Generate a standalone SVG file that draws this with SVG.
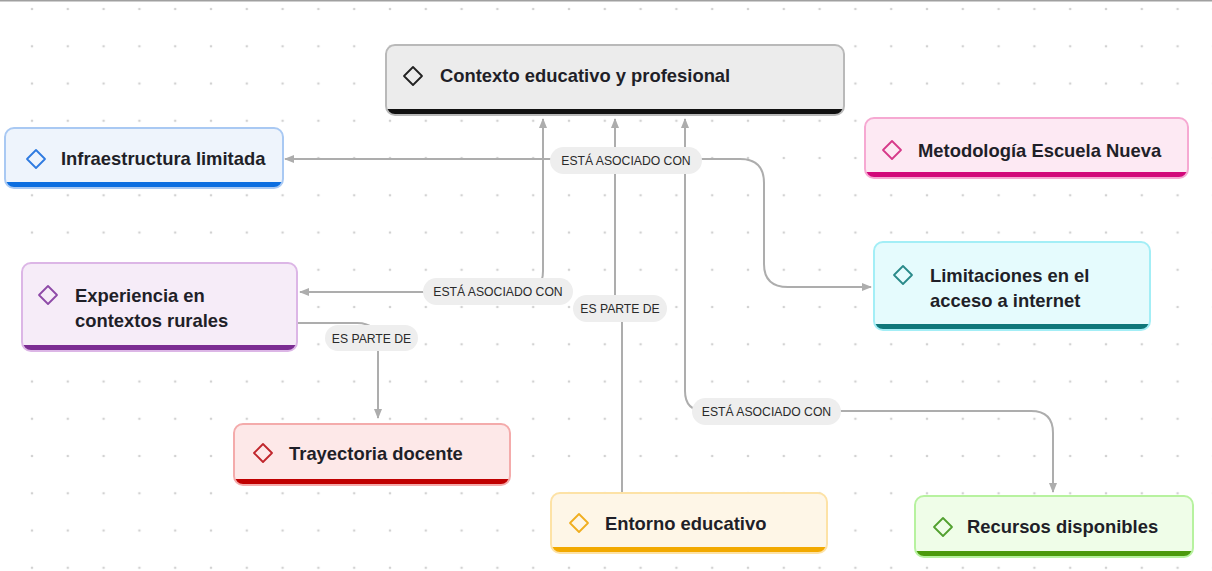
<svg xmlns="http://www.w3.org/2000/svg" width="1212" height="571" viewBox="0 0 1212 571">
<style>
.t{font-family:"Liberation Sans",Arial,sans-serif;font-weight:bold;font-size:18.4px;fill:#1f1f28}
.lt{font-family:"Liberation Sans",Arial,sans-serif;font-size:12.2px;fill:#2a2a2a;text-anchor:middle}
.lb{fill:#eeeeee}
.c{fill:none;stroke:#adadad;stroke-width:2}
.dm{fill:none;stroke-width:1.8;stroke-linejoin:round}
.bd{fill:none;stroke-width:2}
</style>
<defs>
<pattern id="dots" x="14.1" y="-9.6" width="35.8" height="37.25" patternUnits="userSpaceOnUse">
<circle cx="17.9" cy="18.6" r="1.3" fill="#d2d2d2"/>
</pattern>
<marker id="ah" viewBox="0 0 10 10" refX="9" refY="5" markerWidth="10" markerHeight="10" markerUnits="userSpaceOnUse" orient="auto-start-reverse">
<path d="M0,1 L10,5 L0,9 z" fill="#adadad"/>
</marker>
</defs>
<rect width="1212" height="571" fill="#ffffff"/>
<rect width="1212" height="571" fill="url(#dots)"/>
<rect x="0" y="0" width="1212" height="1.5" fill="#a0a0a0"/>

<g id="connectors">
<path class="c" d="M 285 159 H 740 Q 764 159 764 183 V 264 Q 764 287 788 287 H 871" marker-start="url(#ah)" marker-end="url(#ah)"/>
<path class="c" d="M 300 292 H 522 Q 543 292 543 271 V 119" marker-start="url(#ah)" marker-end="url(#ah)"/>
<path class="c" d="M 622 492 V 318 L 615 300 V 119" marker-end="url(#ah)"/>
<path class="c" d="M 685 119 V 391 Q 685 411 705 411 H 1031 Q 1053 411 1053 433 V 492" marker-start="url(#ah)" marker-end="url(#ah)"/>
<path class="c" d="M 298 323 H 357 Q 378 323 378 344 V 418" marker-end="url(#ah)"/>
<g id="lbl1"><rect class="lb" x="550" y="147" width="152" height="27" rx="13.5"/><text class="lt" x="626" y="165">ESTÁ ASOCIADO CON</text></g>
<g id="lbl2"><rect class="lb" x="423" y="278" width="150" height="27" rx="13.5"/><text class="lt" x="498" y="296">ESTÁ ASOCIADO CON</text></g>
<g id="lbl3"><rect class="lb" x="692" y="398" width="149" height="27" rx="13.5"/><text class="lt" x="766.5" y="416">ESTÁ ASOCIADO CON</text></g>
<g id="lbl4"><rect class="lb" x="573" y="295" width="94" height="27" rx="13.5"/><text class="lt" x="620" y="313">ES PARTE DE</text></g>
<g id="lbl5"><rect class="lb" x="325" y="325" width="93" height="26" rx="13"/><text class="lt" x="371.5" y="342.5">ES PARTE DE</text></g>
</g>

<g id="n-contexto">
<rect x="386" y="45" width="458" height="70" rx="9" fill="#111111"/>
<path d="M386 109 V54 Q386 45 395 45 H835 Q844 45 844 54 V109 Z" fill="#ececec"/>
<rect class="bd" x="386" y="45" width="458" height="70" rx="9" stroke="#b9b9b9"/>
<path class="dm" d="M413 67 L422 76 L413 85 L404 76 Z" stroke="#222"/>
<text class="t" x="440" y="82">Contexto educativo y profesional</text>
</g>

<g id="n-infra">
<rect x="5" y="128" width="278" height="60" rx="9" fill="#0c6ee0"/>
<path d="M5 182 V137 Q5 128 14 128 H274 Q283 128 283 137 V182 Z" fill="#eef4fc"/>
<rect class="bd" x="5" y="128" width="278" height="60" rx="9" stroke="#a9c9f3"/>
<path class="dm" d="M36 150 L45 159 L36 168 L27 159 Z" stroke="#2f7be0"/>
<text class="t" x="61" y="165">Infraestructura limitada</text>
</g>

<g id="n-metodologia">
<rect x="865" y="118" width="323" height="60" rx="9" fill="#d2097a"/>
<path d="M865 172 V127 Q865 118 874 118 H1179 Q1188 118 1188 127 V172 Z" fill="#fde9f3"/>
<rect class="bd" x="865" y="118" width="323" height="60" rx="9" stroke="#f6a9d2"/>
<path class="dm" d="M892 141 L901 150 L892 159 L883 150 Z" stroke="#d63a8a"/>
<text class="t" x="918" y="157">Metodología Escuela Nueva</text>
</g>

<g id="n-experiencia">
<rect x="22" y="263" width="275" height="88" rx="9" fill="#7c2d93"/>
<path d="M22 345 V272 Q22 263 31 263 H288 Q297 263 297 272 V345 Z" fill="#f6ecf8"/>
<rect class="bd" x="22" y="263" width="275" height="88" rx="9" stroke="#dcb6e6"/>
<path class="dm" d="M48 286 L57 295 L48 304 L39 295 Z" stroke="#8e4aa8"/>
<text class="t" x="75" y="302">Experiencia en</text>
<text class="t" x="75" y="327">contextos rurales</text>
</g>

<g id="n-limitaciones">
<rect x="874" y="242" width="276" height="88" rx="9" fill="#10777a"/>
<path d="M874 324 V251 Q874 242 883 242 H1141 Q1150 242 1150 251 V324 Z" fill="#e5fbfd"/>
<rect class="bd" x="874" y="242" width="276" height="88" rx="9" stroke="#a3eef6"/>
<path class="dm" d="M903 266 L912 275 L903 284 L894 275 Z" stroke="#2a8a8a"/>
<text class="t" x="930" y="282">Limitaciones en el</text>
<text class="t" x="930" y="307">acceso a internet</text>
</g>

<g id="n-trayectoria">
<rect x="234" y="424" width="276" height="61" rx="9" fill="#c00000"/>
<path d="M234 479 V433 Q234 424 243 424 H501 Q510 424 510 433 V479 Z" fill="#fde8e8"/>
<rect class="bd" x="234" y="424" width="276" height="61" rx="9" stroke="#f4abab"/>
<path class="dm" d="M263 444 L272 453 L263 462 L254 453 Z" stroke="#c0262c"/>
<text class="t" x="289" y="460">Trayectoria docente</text>
</g>

<g id="n-entorno">
<rect x="551" y="493" width="276" height="60" rx="9" fill="#f2a900"/>
<path d="M551 547 V502 Q551 493 560 493 H818 Q827 493 827 502 V547 Z" fill="#fef6e7"/>
<rect class="bd" x="551" y="493" width="276" height="60" rx="9" stroke="#fde2a6"/>
<path class="dm" d="M579 514 L588 523 L579 532 L570 523 Z" stroke="#f0ae20"/>
<text class="t" x="605" y="530">Entorno educativo</text>
</g>

<g id="n-recursos">
<rect x="915" y="496" width="278" height="61" rx="9" fill="#4b9a0c"/>
<path d="M915 551 V505 Q915 496 924 496 H1184 Q1193 496 1193 505 V551 Z" fill="#effde8"/>
<rect class="bd" x="915" y="496" width="278" height="61" rx="9" stroke="#b7f29f"/>
<path class="dm" d="M943 518 L952 527 L943 536 L934 527 Z" stroke="#52a030"/>
<text class="t" x="967" y="533">Recursos disponibles</text>
</g>
</svg>
